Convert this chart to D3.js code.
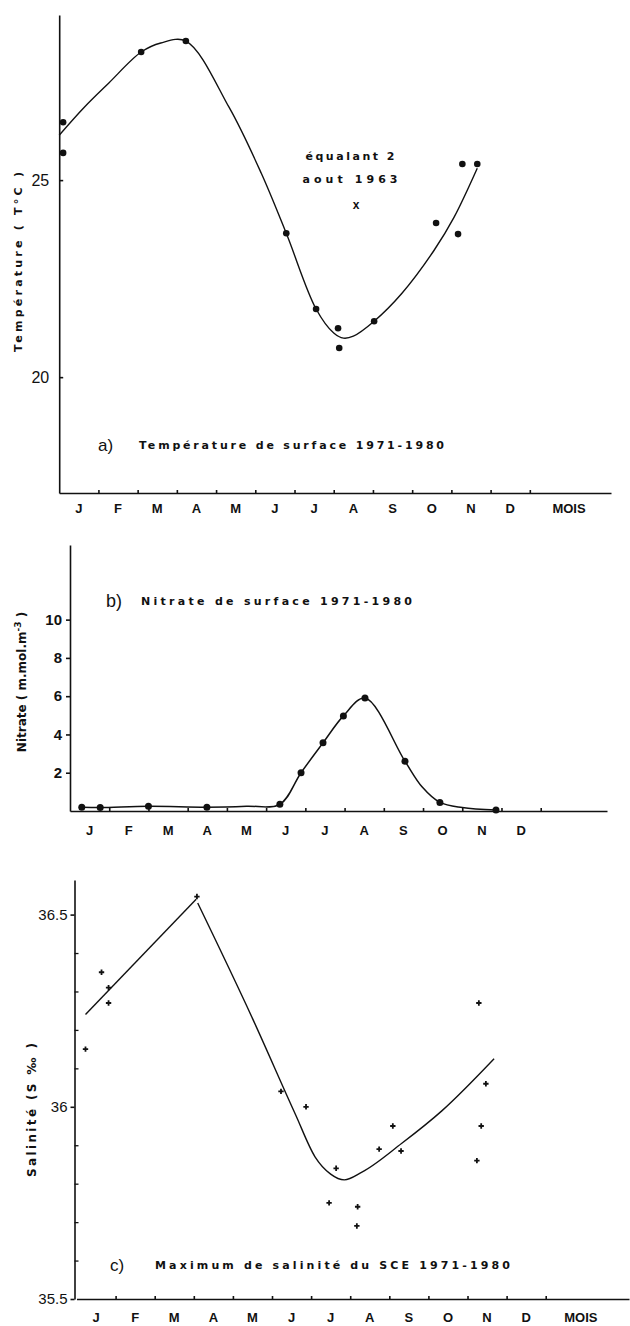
<!DOCTYPE html>
<html><head><meta charset="utf-8">
<script src="https://cdn.jsdelivr.net/npm/d3@7"></script>
<style>
html,body{margin:0;padding:0;background:#fff;}
svg text{font-family:"Liberation Sans","DejaVu Sans",sans-serif;fill:#111;}
svg text.wide{font-family:"DejaVu Sans",sans-serif;}
</style></head>
<body>
<svg id="chart" width="630" height="1326"></svg>
<script>
// ---------- data ----------
const months = ["J","F","M","A","M","J","J","A","S","O","N","D"];

// a) Température de surface (month units: 0 = start of January)
const tempMonth = [0.1, 0.1, 2.09, 3.23, 5.79, 6.55, 7.11, 7.14, 8.03, 9.61, 10.17, 10.28, 10.66];
const tempValue = [26.47, 25.69, 28.25, 28.53, 23.65, 21.73, 21.24, 20.74, 21.42, 23.91, 23.63, 25.41, 25.41];
const tempCurveMonth = [0, 0.64, 1.26, 2.09, 2.59, 3.23, 4.33, 5.15, 5.79, 6.55, 7.0, 7.25, 7.5, 8.03, 8.74, 9.56, 10.07, 10.66];
const tempCurveValue = [26.14, 26.85, 27.46, 28.25, 28.48, 28.53, 26.85, 25.18, 23.65, 21.73, 21.12, 20.99, 21.04, 21.42, 22.13, 23.22, 24.06, 25.3];
const tempTicks = [20, 25];
const aug1963 = {month: 7.57, value: 24.37, lines: ["équalant 2", "aout 1963"]};

// b) Nitrate de surface
const nitMonth = [0.3, 0.77, 2.0, 3.49, 5.35, 5.89, 6.45, 6.97, 7.52, 8.54, 9.43, 10.86];
const nitValue = [0.2, 0.18, 0.25, 0.2, 0.35, 2.0, 3.56, 4.97, 5.9, 2.6, 0.45, 0.05];
const nitCurveMonth = [0.3, 0.77, 2.0, 3.49, 4.5, 5.35, 5.89, 6.45, 6.97, 7.52, 8.54, 8.98, 9.43, 10.0, 10.86];
const nitCurveValue = [0.2, 0.18, 0.25, 0.2, 0.25, 0.35, 2.0, 3.56, 4.97, 5.9, 2.6, 1.25, 0.45, 0.18, 0.05];
const nitTicks = [2, 4, 6, 8, 10];

// c) Maximum de salinité du SCE
const salMonth = [0.23, 0.64, 0.82, 0.82, 3.08, 5.23, 5.87, 6.46, 6.64, 7.17, 7.19, 7.74, 8.09, 8.3, 10.24, 10.29, 10.35, 10.47];
const salValue = [36.15, 36.35, 36.31, 36.27, 36.547, 36.04, 36.0, 35.75, 35.84, 35.69, 35.74, 35.89, 35.95, 35.885, 35.86, 36.27, 35.95, 36.06];
const salRiseMonth = [0.23, 3.06];
const salRiseValue = [36.24, 36.54];
const salFallMonth = [3.1, 4.5, 5.6, 6.1, 6.5, 6.85, 7.3, 8.32, 9.35, 10.68];
const salFallValue = [36.53, 36.23, 35.98, 35.87, 35.825, 35.81, 35.83, 35.905, 35.99, 36.125];
const salMajor = [35.5, 36, 36.5];
const salMinor = [35.6, 35.7, 35.8, 35.9, 36.1, 36.2, 36.3, 36.4];

// ---------- drawing ----------
const svg = d3.select("#chart");
svg.append("rect").attr("width", 630).attr("height", 1326).attr("fill", "#fff");
const ink = "#111";

function monthAxis(g, x, y0, labelY, withMois, moisM) {
  const ax = d3.axisBottom(x).tickValues(d3.range(1, 13)).tickSize(-3).tickFormat("").tickSizeOuter(0);
  g.append("g").attr("transform", `translate(0,${y0})`).call(ax)
    .call(s => s.selectAll("path,line").attr("stroke", ink).attr("stroke-width", 1.6));
  g.append("g").selectAll("text").data(months).join("text")
    .attr("x", (d, i) => x(i + 0.5)).attr("y", labelY)
    .attr("text-anchor", "middle").attr("font-size", 13).attr("font-weight", "bold")
    .text(d => d);
  if (withMois) {
    g.append("text").attr("x", x(moisM)).attr("y", labelY).attr("text-anchor", "middle")
      .attr("font-size", 13).attr("font-weight", "bold").text("MOIS");
  }
}

// ===== Panel a =====
{
  const g = svg.append("g");
  const x = d3.scaleLinear().domain([0, 14.07]).range([59.2, 611]);
  const y = d3.scaleLinear().domain([17.06, 29.19]).range([493, 15]);
  const yAx = d3.axisLeft(y).tickValues(tempTicks).tickSize(-4).tickSizeOuter(0).tickPadding(10).tickFormat(d3.format("d"));
  g.append("g").attr("transform", `translate(${x(0)},0)`).call(yAx)
    .call(s => { s.selectAll("path,line").attr("stroke", ink).attr("stroke-width", 1.6);
                 s.selectAll("text").attr("font-size", 16).attr("font-family", "Liberation Sans").attr("fill", ink); });
  monthAxis(g, x, 493, 513, true, 13.0);
  const curve = d3.line().x(d => x(d[0])).y(d => y(d[1])).curve(d3.curveCatmullRom.alpha(0.5));
  g.append("path").attr("d", curve(d3.zip(tempCurveMonth, tempCurveValue)))
    .attr("fill", "none").attr("stroke", ink).attr("stroke-width", 1.4);
  g.selectAll("circle.pt").data(d3.zip(tempMonth, tempValue)).join("circle")
    .attr("cx", d => x(d[0])).attr("cy", d => y(d[1])).attr("r", 3.3).attr("fill", ink);
  g.append("text").attr("x", x(aug1963.month)).attr("y", y(aug1963.value) + 4)
    .attr("text-anchor", "middle").attr("font-size", 12).attr("font-weight", "bold").text("x");
  aug1963.lines.forEach((t, i) => {
    g.append("text").attr("class", "wide").attr("x", 350).attr("y", 160 + i * 23).attr("text-anchor", "middle")
      .attr("font-size", 11).attr("font-weight", "bold").attr("textLength", i ? 95 : 89).attr("lengthAdjust", "spacing").text(t);
  });
  g.append("text").attr("x", 98).attr("y", 451).attr("font-size", 17).text("a)");
  g.append("text").attr("class", "wide").attr("x", 139).attr("y", 449).attr("font-size", 11).attr("font-weight", "bold")
    .attr("textLength", 305).attr("lengthAdjust", "spacing").text("Température de surface 1971-1980");
  g.append("text").attr("class", "wide").attr("transform", "translate(22,262) rotate(-90)").attr("text-anchor", "middle")
    .attr("font-size", 11).attr("font-weight", "bold").attr("textLength", 180).attr("lengthAdjust", "spacing").text("Température ( T°C )");
}

// ===== Panel b =====
{
  const g = svg.append("g");
  const x = d3.scaleLinear().domain([0, 13.69]).range([70, 607]);
  const y = d3.scaleLinear().domain([0, 13.9]).range([811, 545]);
  const yAx = d3.axisLeft(y).tickValues(nitTicks).tickSize(4).tickSizeOuter(0).tickPadding(4).tickFormat(d3.format("d"));
  g.append("g").attr("transform", `translate(${x(0)},0)`).call(yAx)
    .call(s => { s.selectAll("path,line").attr("stroke", ink).attr("stroke-width", 1.6);
                 s.selectAll("text").attr("font-size", 15).attr("font-weight", "bold").attr("font-family", "Liberation Sans").attr("fill", ink); });
  monthAxis(g, x, 811, 835, false);
  const curve = d3.line().x(d => x(d[0])).y(d => y(d[1])).curve(d3.curveCatmullRom.alpha(0.5));
  g.append("path").attr("d", curve(d3.zip(nitCurveMonth, nitCurveValue)))
    .attr("fill", "none").attr("stroke", ink).attr("stroke-width", 1.5);
  g.selectAll("circle.pt").data(d3.zip(nitMonth, nitValue)).join("circle")
    .attr("cx", d => x(d[0])).attr("cy", d => y(d[1])).attr("r", 3.5).attr("fill", ink);
  g.append("text").attr("x", 106).attr("y", 607).attr("font-size", 18).text("b)");
  g.append("text").attr("class", "wide").attr("x", 141).attr("y", 605).attr("font-size", 11).attr("font-weight", "bold")
    .attr("textLength", 271).attr("lengthAdjust", "spacing").text("Nitrate de surface  1971-1980");
  const yl = g.append("text").attr("class", "wide").attr("transform", "translate(26,682) rotate(-90)").attr("text-anchor", "middle")
    .attr("font-size", 12).attr("font-weight", "bold");
  yl.append("tspan").text("Nitrate ( m.mol.m");
  yl.append("tspan").attr("dy", -5).attr("font-size", 9).text("-3");
  yl.append("tspan").attr("dy", 5).text(" )");
}

// ===== Panel c =====
{
  const g = svg.append("g");
  const x = d3.scaleLinear().domain([0, 14.13]).range([76.5, 629]);
  const y = d3.scaleLinear().domain([35.5, 36.59]).range([1299, 880]);
  const yAx = d3.axisLeft(y).tickValues(salMajor).tickSize(4).tickSizeOuter(0).tickPadding(3).tickFormat(d => d === 36 ? "36" : d3.format(".1f")(d));
  g.append("g").attr("transform", `translate(${x(0) - 2},0)`).call(yAx)
    .call(s => { s.selectAll("path,line").attr("stroke", ink).attr("stroke-width", 1.6);
                 s.selectAll("text").attr("font-size", 15).attr("font-family", "Liberation Sans").attr("fill", ink); });
  g.append("g").attr("transform", `translate(${x(0) - 2},0)`)
    .call(d3.axisRight(y).tickValues(salMinor).tickSize(4).tickFormat("").tickSizeOuter(0))
    .call(s => { s.select("path").remove(); s.selectAll("line").attr("stroke", ink).attr("stroke-width", 1.3); });
  monthAxis(g, x, 1299, 1322, true, 12.9);
  const lin = d3.line().x(d => x(d[0])).y(d => y(d[1]));
  g.append("path").attr("d", lin(d3.zip(salRiseMonth, salRiseValue)))
    .attr("fill", "none").attr("stroke", ink).attr("stroke-width", 1.4);
  g.append("path").attr("d", lin.curve(d3.curveMonotoneX)(d3.zip(salFallMonth, salFallValue)))
    .attr("fill", "none").attr("stroke", ink).attr("stroke-width", 1.4);
  g.selectAll("path.pt").data(d3.zip(salMonth, salValue)).join("path")
    .attr("transform", d => `translate(${x(d[0])},${y(d[1])})`)
    .attr("d", d3.symbol(d3.symbolCross).size(16)).attr("fill", ink);
  g.append("text").attr("x", 110).attr("y", 1271).attr("font-size", 17).text("c)");
  g.append("text").attr("class", "wide").attr("x", 155).attr("y", 1269).attr("font-size", 11).attr("font-weight", "bold")
    .attr("textLength", 355).attr("lengthAdjust", "spacing").text("Maximum de salinité du SCE 1971-1980");
  g.append("text").attr("class", "wide").attr("transform", "translate(36,1110) rotate(-90)").attr("text-anchor", "middle")
    .attr("font-size", 12).attr("font-weight", "bold").attr("textLength", 134).attr("lengthAdjust", "spacing").text("Salinité (S ‰ )");
}
</script>
</body></html>
